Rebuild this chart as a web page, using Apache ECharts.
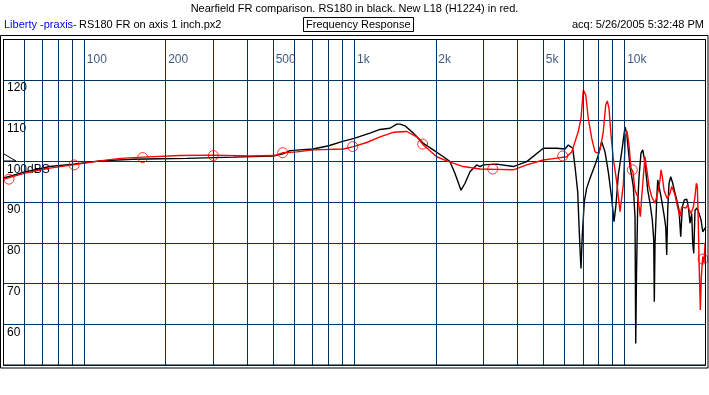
<!DOCTYPE html>
<html>
<head>
<meta charset="utf-8">
<script src="https://cdn.jsdelivr.net/npm/echarts@6/dist/echarts.min.js"></script>
<style>
html,body{margin:0;padding:0;background:#fff;}
#c{width:709px;height:395px;}
</style>
</head>
<body>
<div id="c"></div>
<script>
// ---- data (frequency in Hz, level in dB SPL) ----
var bkFreq = [50.4,60.3,74.6,91.0,114.3,151.4,190.6,239.3,355,499,544,577,628,702,803,897,996,1141,1243,1353,1433,1474,1538,1651,1798,1957,2132,2257,2355,2479,2565,2676,2833,2914,2997,3360,3871,4339,4998,5603,6014,6186,6276,6422,6549,6701,6776,6834,6892,6969,7089,7236,7442,7766,7988,8222,8335,8457,8698,8954,9131,9288,9472,9750,10029,10175,10315,10466,10619,10765,10922,10988,11060,11177,11301,11495,11663,11793,11965,12170,12411,12657,12809,12874,12951,13140,13253,13434,13631,13830,14020,14188,14310,14432,14593,14806,15061,15268,15583,15892,16124,16346,16627,16970,17203,17455,17709,17861,18014,18214,18527,18845,19170,19450,19717,19990];
var bkDb = [95.9,97.4,98.7,99.3,100.1,100.5,100.6,100.7,101.0,101.3,101.8,102.6,102.8,103.0,103.8,104.8,105.6,106.9,107.8,108.1,109.1,109.1,108.7,106.9,104.4,102.8,101.1,99.9,97.0,92.9,94.6,97.4,99.1,98.7,99.1,99.3,98.7,99.9,103.2,103.2,103.0,104.0,104.0,103.2,98.7,92.5,84.4,78.6,73.7,81.9,90.1,93.4,95.8,99.1,101.5,104.8,105.0,102.3,97.4,90.9,85.2,89.3,96.6,102.3,108.4,106.9,102.8,98.7,96.2,93.8,86.4,55.3,72.0,89.7,96.2,102.0,102.8,101.1,97.9,92.9,89.7,85.6,80.7,65.5,79.9,90.5,95.4,95.8,91.3,88.8,86.4,83.9,77.0,88.0,94.6,96.2,94.6,92.9,90.5,88.0,81.5,88.8,90.5,90.7,88.8,84.8,87.2,79.9,77.4,88.0,88.5,87.2,85.6,82.7,83.1,83.9];

var rdFreq = [50.4,60.3,74.6,90.8,114.3,135.6,164.9,226,299.4,410.5,507.9,543.8,611.1,704.1,909.1,989.9,1110,1243,1392,1561,1699,1798,2015,2194,2527,2914,3360,3871,4339,4998,5523,6102,6368,6549,6735,6892,7029,7089,7175,7335,7551,7766,7947,8104,8335,8507,8624,8750,8901,9076,9343,9610,9885,10071,10201,10376,10554,10736,10922,11177,11301,11427,11564,11723,11894,11996,12129,12306,12592,12951,13140,13320,13515,13631,13783,13985,14188,14383,14506,14718,14934,15138,15359,15583,15797,16028,16262,16486,16827,17115,17351,17604,17952,18214,18417,18575,18733,18845,19056,19219,19450,19666,19840];
var rdDb = [95.6,97.1,98.3,99.1,100.1,100.7,101.0,101.4,101.5,101.3,101.4,102.1,102.3,102.8,103.0,103.6,104.6,106.0,107.1,107.3,106.0,104.0,101.1,100.1,98.7,98.1,98.0,97.9,99.1,100.3,100.7,101.1,102.3,104.8,107.3,110.5,117.5,117.7,116.3,110.5,105.6,102.3,102.0,102.8,107.3,113.8,114.8,113.0,106.4,100.7,95.0,87.6,94.2,106.4,107.4,104.0,98.3,97.4,92.9,91.3,88.8,86.4,91.3,96.2,101.1,100.7,97.0,93.8,91.3,89.7,90.1,92.9,95.4,97.9,96.2,92.9,91.7,90.9,90.5,92.1,93.8,92.9,91.7,89.7,88.0,86.4,88.8,88.8,88.5,89.3,88.0,87.2,88.8,91.3,94.6,93.8,84.8,75.8,63.5,71.7,76.6,75.0,79.9];

var mkFreq = [52.6,91.6,164.5,300.2,542.4,984.8,1788,3247,5897,10673,19498];
var mkDb = [95.6,99.1,100.9,101.4,102.1,103.6,104.2,98.1,101.3,97.9,76.0];

var gridFreqs = [60,70,80,90,100,200,300,400,500,600,700,800,900,1000,2000,3000,4000,5000,6000,7000,8000,9000,10000];
var tickFreqs = [100,200,500,1000,2000,5000,10000];
var tickLabels = ['100','200','500','1k','2k','5k','10k'];
var dbTicks = {100:'100dBS'};

var titleText = 'Nearfield FR comparison. RS180 in black. New L18 (H1224) in red.';
var brandText = 'Liberty -praxis-';
var fileText = 'RS180 FR on axis 1 inch.px2';
var boxText = 'Frequency Response';
var acqText = 'acq: 5/26/2005 5:32:48 PM';

function zip(a,b){ return a.map(function(v,i){ return [v,b[i]]; }); }

var FONT = "'Liberation Sans', Arial, sans-serif";
var NAVY = '#003366';
var LABEL_NAVY = '#0a2a5a';

var chart = echarts.init(document.getElementById('c'), null, {renderer:'canvas'});
chart.setOption({
  animation:false,
  backgroundColor:'#ffffff',
  title:[
    {text:titleText, left:'center', top:3, padding:0, textStyle:{fontFamily:FONT,fontSize:11,fontWeight:'normal',color:'#000'}},
    {text:brandText, left:4, top:19, padding:0, textStyle:{fontFamily:FONT,fontSize:11,fontWeight:'normal',color:'#0000ff'}},
    {text:fileText, left:79, top:19, padding:0, textStyle:{fontFamily:FONT,fontSize:11,fontWeight:'normal',color:'#000'}},
    {text:boxText, left:303, top:17, padding:[2,3,2,3], borderColor:'#000', borderWidth:1, textStyle:{fontFamily:FONT,fontSize:11,fontWeight:'normal',color:'#000'}},
    {text:acqText, right:5, top:19, padding:0, textStyle:{fontFamily:FONT,fontSize:11,fontWeight:'normal',color:'#000'}}
  ],
  grid:{left:3, right:3, top:39, bottom:30, show:false},
  xAxis:{type:'log', logBase:10, min:50, max:20000,
    axisLine:{show:false}, axisTick:{show:false}, axisLabel:{show:false}, splitLine:{show:false}},
  yAxis:{type:'value', min:50, max:130, interval:10,
    axisLine:{show:false}, axisTick:{show:false},
    splitLine:{show:true, lineStyle:{color:NAVY, width:1}},
    axisLabel:{inside:true, margin:4, verticalAlign:'top', padding:[2,0,0,0], color:'#000', fontFamily:FONT, fontSize:12,
      showMinLabel:false, showMaxLabel:false,
      formatter:function(v){ return dbTicks[v] || String(v); }}},
  series:[
    {type:'line', name:'grid', data:[], silent:true,
      markLine:{silent:true, symbol:['none','none'], animation:false,
        label:{show:false}, lineStyle:{color:NAVY, width:1, type:'solid'},
        emphasis:{disabled:true},
        data:gridFreqs.map(function(f){ return {xAxis:f}; })}},
    {type:'scatter', name:'ticks', silent:true, symbolSize:1, symbol:'circle',
      itemStyle:{color:'rgba(0,0,0,0)'},
      data:tickFreqs.map(function(f,i){ return {value:[f,125], name:tickLabels[i]}; }),
      label:{show:true, position:'right', distance:2, color:LABEL_NAVY, fontFamily:FONT, fontSize:12,
        formatter:function(p){ return p.name; }}, z:6},
    {type:'line', name:'RS180', data:zip(bkFreq,bkDb), showSymbol:false, silent:true,
      lineStyle:{color:'#000000', width:1.4}, itemStyle:{color:'#000'}, z:3},
    {type:'line', name:'L18', data:zip(rdFreq,rdDb), showSymbol:false, silent:true,
      lineStyle:{color:'#ff0000', width:1.4}, itemStyle:{color:'#f00'}, z:4},
    {type:'scatter', name:'L18 markers', data:zip(mkFreq,mkDb), symbol:'circle', symbolSize:10, silent:true,
      itemStyle:{color:'rgba(0,0,0,0)', borderColor:'#ff0000', borderWidth:1}, z:5}
  ],
  graphic:[
    {type:'rect', silent:true, z:100, shape:{x:0.5, y:35.5, width:707.5, height:332.5}, style:{fill:null, stroke:'#000', lineWidth:1}},
    {type:'rect', silent:true, z:100, shape:{x:3.5, y:39.5, width:702, height:325.5}, style:{fill:null, stroke:'#000', lineWidth:1}},
    {type:'polyline', silent:true, z:100, shape:{points:[[4,154],[16,161],[4,161]]}, style:{fill:null, stroke:'#000', lineWidth:1}}
  ]
});
</script>
</body>
</html>
